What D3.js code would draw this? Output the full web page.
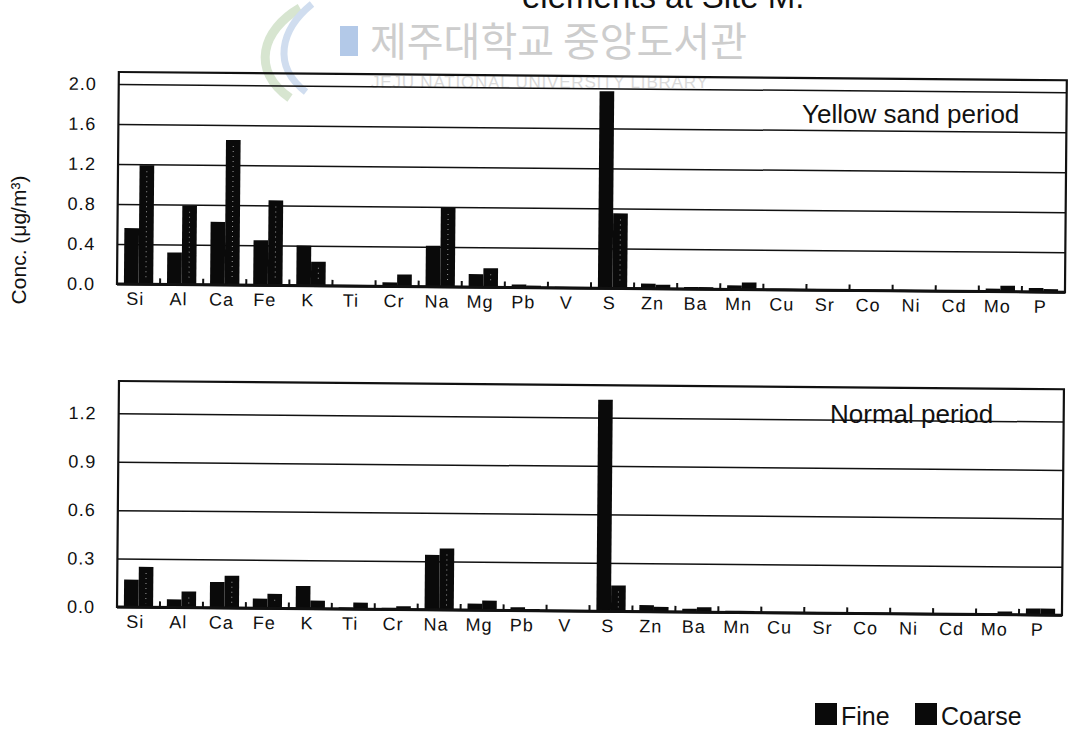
<!DOCTYPE html>
<html>
<head>
<meta charset="utf-8">
<script src="https://cdn.jsdelivr.net/npm/d3@7"></script>
<style>
  html, body { margin: 0; padding: 0; background: #fff; }
  svg { display: block; font-family: "Liberation Sans", Arial, Helvetica, sans-serif; }
</style>
</head>
<body>
<svg id="chart" width="1073" height="738"></svg>
<script>
// Elements measured in fine and coarse particles (ug/m3)
const elements = ["Si","Al","Ca","Fe","K","Ti","Cr","Na","Mg","Pb","V","S","Zn","Ba","Mn","Cu","Sr","Co","Ni","Cd","Mo","P"];

// Yellow sand period
const yellowFine   = [0.56,0.32,0.63,0.45,0.40,0.01,0.04,0.41,0.13,0.03,0.01,1.97,0.05,0.02,0.04,0.01,0.01,0.005,0.01,0.005,0.03,0.04];
const yellowCoarse = [1.19,0.79,1.45,0.85,0.24,0.01,0.12,0.79,0.19,0.02,0.01,0.75,0.04,0.02,0.07,0.01,0.01,0.005,0.01,0.005,0.06,0.03];

// Normal period
const normalFine   = [0.17,0.05,0.16,0.06,0.14,0.01,0.01,0.34,0.04,0.02,0.005,1.31,0.04,0.02,0.01,0.005,0.005,0.005,0.005,0.005,0.01,0.04];
const normalCoarse = [0.25,0.10,0.20,0.09,0.05,0.04,0.02,0.38,0.06,0.01,0.005,0.16,0.03,0.03,0.01,0.005,0.005,0.005,0.005,0.005,0.02,0.04];

const yellowTicks = [0.0,0.4,0.8,1.2,1.6,2.0];
const normalTicks = [0.0,0.3,0.6,0.9,1.2];

const seriesNames = ["Fine","Coarse"];

const svg = d3.select("#chart");

// ---- faint library stamp across the top ----
const stamp = svg.append("g").attr("opacity", 0.9);
stamp.append("path")
  .attr("d", "M300,8 C262,30 250,70 290,98")
  .attr("fill", "none").attr("stroke", "#d3e3cc").attr("stroke-width", 9);
stamp.append("path")
  .attr("d", "M312,4 C280,30 272,66 306,92")
  .attr("fill", "none").attr("stroke", "#cbdaee").attr("stroke-width", 7);
stamp.append("rect").attr("x", 340).attr("y", 26).attr("width", 18).attr("height", 30).attr("fill", "#abc4e6");
stamp.append("text").attr("x", 370).attr("y", 56)
  .attr("font-family", "'Noto Sans CJK KR', sans-serif").attr("font-size", 40)
  .attr("fill", "#c8c8c8").text("제주대학교 중앙도서관");
stamp.append("text").attr("x", 371).attr("y", 88)
  .attr("font-size", 17).attr("fill", "#d6d6d6").attr("letter-spacing", 0.8)
  .text("JEJU NATIONAL UNIVERSITY LIBRARY");

// title line, partly cut off at the top edge
svg.append("text").attr("x", 522).attr("y", 8)
  .attr("font-size", 33).attr("fill", "#111").text("elements at Site M.");

// ---- panels ----
const left = 117;
const tilt = 0.5; // the printed page sits slightly askew

function panel(cfg) {
  const g = svg.append("g").attr("transform", `rotate(${tilt},${left},${cfg.base})`);
  const x = d3.scaleBand().domain(elements).range([left, cfg.right]).padding(0);
  const y = d3.scaleLinear().domain([0, cfg.max]).range([cfg.base, cfg.top]);
  const bw = x.bandwidth();
  const sub = d3.scaleBand().domain(seriesNames).range([0.16 * bw, 0.84 * bw]).padding(0);

  // gridlines with value labels
  const yAxis = d3.axisLeft(y).tickValues(cfg.ticks).tickFormat(d3.format(".1f"))
    .tickSize(-(cfg.right - left)).tickPadding(22);
  const ya = g.append("g").attr("transform", `translate(${left},0)`).call(yAxis);
  ya.select(".domain").remove();
  ya.selectAll(".tick line").attr("stroke", "#111").attr("stroke-width", 1.5);
  ya.selectAll(".tick text").attr("font-size", 18).attr("fill", "#111")
    .attr("letter-spacing", 1)
    .attr("font-family", "'Liberation Sans', Arial, sans-serif");

  // bars
  const rows = elements.map((e, i) => ({ e, fine: cfg.fine[i], coarse: cfg.coarse[i] }));
  const grp = g.append("g").selectAll("g").data(rows).join("g")
    .attr("transform", d => `translate(${x(d.e)},0)`);
  grp.append("rect")
    .attr("x", sub("Fine")).attr("width", sub.bandwidth())
    .attr("y", d => y(d.fine)).attr("height", d => y(0) - y(d.fine))
    .attr("fill", "#0a0a0a");
  grp.append("rect")
    .attr("x", sub("Coarse")).attr("width", sub.bandwidth())
    .attr("y", d => y(d.coarse)).attr("height", d => y(0) - y(d.coarse))
    .attr("fill", "#0a0a0a");
  // speckle running down the coarse bars
  grp.filter(d => y(0) - y(d.coarse) > 12).append("line")
    .attr("x1", sub("Coarse") + sub.bandwidth() / 2).attr("x2", sub("Coarse") + sub.bandwidth() / 2)
    .attr("y1", d => y(d.coarse) + 6).attr("y2", y(0) - 4)
    .attr("stroke", "#9a9a9a").attr("stroke-width", 1).attr("stroke-dasharray", "1,4");

  // category separators standing on the baseline
  g.append("g").selectAll("line").data(elements.slice(1)).join("line")
    .attr("x1", d => x(d)).attr("x2", d => x(d))
    .attr("y1", y(0)).attr("y2", y(0) - 6)
    .attr("stroke", "#111").attr("stroke-width", 2);

  // frame
  g.append("rect").attr("x", left).attr("y", cfg.top)
    .attr("width", cfg.right - left).attr("height", cfg.base - cfg.top)
    .attr("fill", "none").attr("stroke", "#111").attr("stroke-width", 2.2);
  g.append("line").attr("x1", left).attr("x2", cfg.right)
    .attr("y1", y(0)).attr("y2", y(0)).attr("stroke", "#111").attr("stroke-width", 3);

  // element labels
  const xAxis = d3.axisBottom(x).tickSize(0).tickPadding(cfg.labelPad);
  const xa = g.append("g").attr("transform", `translate(0,${cfg.base})`).call(xAxis);
  xa.select(".domain").remove();
  xa.selectAll(".tick text").attr("font-size", 18).attr("fill", "#111")
    .attr("letter-spacing", 1)
    .attr("font-family", "'Liberation Sans', Arial, sans-serif")
    .attr("dx", -3);

  // period name
  svg.append("text").attr("x", cfg.nameX).attr("y", cfg.nameY)
    .attr("font-size", 26).attr("fill", "#111").text(cfg.name);
}

panel({
  right: 1065, top: 72, base: 284, max: 2.12,
  ticks: yellowTicks, fine: yellowFine, coarse: yellowCoarse,
  labelPad: 8, name: "Yellow sand period", nameX: 802, nameY: 123
});

panel({
  right: 1062, top: 381, base: 607, max: 1.4,
  ticks: normalTicks, fine: normalFine, coarse: normalCoarse,
  labelPad: 8, name: "Normal period", nameX: 830, nameY: 423
});

// axis title shared by both panels
svg.append("text")
  .attr("transform", "translate(26,240) rotate(-90)")
  .attr("text-anchor", "middle").attr("font-size", 21).attr("fill", "#111")
  .text("Conc. (μg/m³)");

// legend
const legend = svg.append("g").attr("transform", "translate(815,703)");
const legendX = [0, 100];
seriesNames.forEach((name, i) => {
  const item = legend.append("g").attr("transform", `translate(${legendX[i]},0)`);
  item.append("rect").attr("x", 0).attr("y", 0).attr("width", 22).attr("height", 22).attr("fill", "#0a0a0a");
  item.append("text").attr("x", 26).attr("y", 22).attr("font-size", 25).attr("fill", "#111").text(name);
});
</script>
</body>
</html>
